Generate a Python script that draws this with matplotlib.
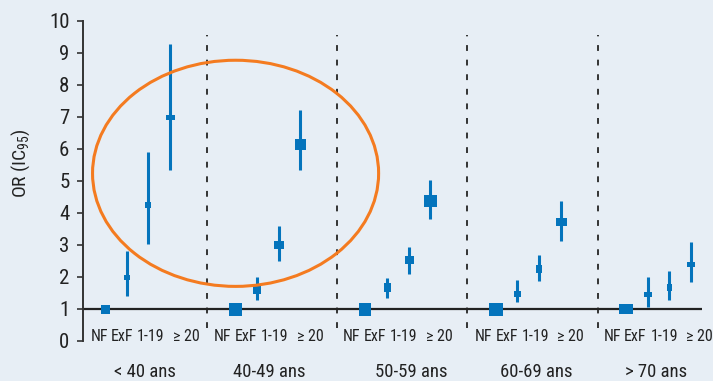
"""OR (IC95) by age group and smoking status, forest-style chart."""

import matplotlib
matplotlib.use("Agg")
import matplotlib.pyplot as plt
import numpy as np
from matplotlib import font_manager
from matplotlib.path import Path
from matplotlib.patches import Ellipse

# data
age_groups = ["< 40 ans", "40-49 ans", "50-59 ans", "60-69 ans", "> 70 ans"]
categories = ["NF", "ExF", "1-19", "\u2265 20"]

or_lt40 = [1.0, 2.0, 4.25, 7.0]
or_40_49 = [1.0, 1.6, 3.0, 6.15]
or_50_59 = [1.0, 1.7, 2.52, 4.37]
or_60_69 = [1.0, 1.48, 2.24, 3.7]
or_gt70 = [1.0, 1.48, 1.7, 2.4]

lo_lt40 = [1.0, 1.4, 3.03, 5.35]
lo_40_49 = [1.0, 1.28, 2.5, 5.35]
lo_50_59 = [1.0, 1.34, 2.1, 3.82]
lo_60_69 = [1.0, 1.21, 1.87, 3.12]
lo_gt70 = [1.0, 1.07, 1.28, 1.83]

hi_lt40 = [1.0, 2.8, 5.9, 9.27]
hi_40_49 = [1.0, 2.0, 3.6, 7.22]
hi_50_59 = [1.0, 1.97, 2.95, 5.04]
hi_60_69 = [1.0, 1.89, 2.69, 4.38]
hi_gt70 = [1.0, 2.0, 2.2, 3.1]

# marker box sizes in pixels (width, height), reflecting the weight of each estimate
box_w = [[9, 6, 6, 9], [13, 8, 10, 11], [12, 7, 9, 13], [14, 7, 6, 11], [14, 8, 5, 8]]
box_h = [[9, 5, 6, 5], [13, 8, 8, 11], [13, 9, 8, 12], [13, 6, 8, 8], [10, 5, 7, 5]]

or_vals = [or_lt40, or_40_49, or_50_59, or_60_69, or_gt70]
lo_vals = [lo_lt40, lo_40_49, lo_50_59, lo_60_69, lo_gt70]
hi_vals = [hi_lt40, hi_40_49, hi_50_59, hi_60_69, hi_gt70]

BLUE = "#0474BC"
ORANGE = "#F47B20"
TEXT = "#222222"
BG = "#E7EEF5"
PX = 0.72  # points per pixel at dpi 100


def pick_condensed_font():
    """Find a narrow sans font among the installed ones."""
    fonts = font_manager.fontManager.ttflist
    preferred = ["Roboto Condensed", "Liberation Sans Narrow", "Open Sans Condensed",
                 "Noto Sans Condensed", "Noto Sans", "DejaVu Sans"]
    for name in preferred:
        for f in fonts:
            if f.name != name or f.style != "normal":
                continue
            narrow = ("Condensed" in f.name or "Narrow" in f.name
                      or str(f.stretch) in ("condensed", "semi-condensed", "500", "400", "75"))
            if narrow and f.weight in (400, "normal", "regular"):
                return f.name, f.stretch
    return "DejaVu Sans", "normal"


font_name, font_stretch = pick_condensed_font()
plt.rcParams["font.family"] = [font_name, "DejaVu Sans"]
plt.rcParams["font.stretch"] = font_stretch

fig = plt.figure(figsize=(7.13, 3.81), dpi=100, facecolor=BG)
ax = fig.add_axes([0.1164, 0.105, 0.8682, 0.8407])
ax.set_facecolor(BG)

GROUP_STEP = 6
for g, age in enumerate(age_groups):
    xs = g * GROUP_STEP + np.arange(len(categories))
    vals = np.array(or_vals[g])
    lo = vals - np.array(lo_vals[g])
    hi = np.array(hi_vals[g]) - vals
    ax.errorbar(xs[1:], vals[1:], yerr=[lo[1:], hi[1:]], fmt="none",
                ecolor=BLUE, elinewidth=2.2, capsize=0, zorder=3)
    for i, x in enumerate(xs):
        w, h = box_w[g][i], box_h[g][i]
        rect = Path([(-w / 2, -h / 2), (w / 2, -h / 2), (w / 2, h / 2),
                     (-w / 2, h / 2), (-w / 2, -h / 2)], closed=True)
        ax.plot(x, vals[i], marker=rect, markersize=max(w, h) * PX,
                color=BLUE, markeredgewidth=0, linestyle="none", zorder=4)

# reference line at OR = 1
ax.axhline(1, color="#222222", lw=1.6, zorder=2)

# dashed separators between age groups
for g in range(len(age_groups) - 1):
    ax.plot([g * GROUP_STEP + 4.7] * 2, [0.42, 9.55], color="#333333",
            lw=1.4, dashes=(3, 4.5), zorder=1)

# category and age-group labels
cat_center = [1.87, 7.58, 13.52, 19.59, 25.51]
cat_offset = [-2.14, -1.08, 0.25, 1.87]
age_center = [1.84, 7.56, 14.1, 19.86, 25.39]
for g, age in enumerate(age_groups):
    for c, off in zip(categories, cat_offset):
        ax.text(cat_center[g] + off, 0.15, c, ha="center", va="center",
                fontsize=11.5, color=TEXT, clip_on=False)
    ax.text(age_center[g], -0.097, age, ha="center", va="center", fontsize=13.5,
            color=TEXT, transform=ax.get_xaxis_transform(), clip_on=False)

# highlight ellipse
ax.add_patch(Ellipse((6.02, 5.235), 13.18, 7.06, fill=False, ec=ORANGE,
                     lw=2.2, zorder=5))

ax.set_xlim(-1.01, 27.51)
ax.set_ylim(0, 10)
ax.set_yticks(range(0, 11))
ax.tick_params(axis="y", labelsize=15, length=4.3, width=1.2,
               colors="#333333", labelcolor=TEXT, pad=5.5)
ax.set_xticks([])
for side in ["top", "right", "bottom"]:
    ax.spines[side].set_visible(False)
ax.spines["left"].set_color("#333333")
ax.spines["left"].set_linewidth(1.4)

ax.set_ylabel("OR (IC$_{\\mathregular{95}}$)", fontsize=14, color=TEXT)
ax.yaxis.set_label_coords(-0.082, 0.554)

fig.savefig("out.png", dpi=100, facecolor=BG)
